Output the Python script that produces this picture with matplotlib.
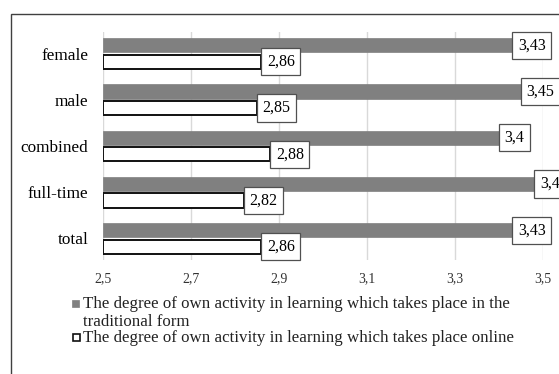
import matplotlib
matplotlib.use("Agg")
import matplotlib.pyplot as plt
from matplotlib.patches import Rectangle
import numpy as np

plt.rcParams['font.family'] = ['Liberation Serif', 'DejaVu Serif']

categories = ['female', 'male', 'combined', 'full-time', 'total']
traditional = [3.43, 3.45, 3.4, 3.48, 3.43]
online = [2.86, 2.85, 2.88, 2.82, 2.86]
x_ticks = [2.5, 2.7, 2.9, 3.1, 3.3, 3.5]

label_trad = ['The degree of own activity in learning which takes place in the',
              'traditional form']
label_online = 'The degree of own activity in learning which takes place online'

W, H = 559, 374
fig = plt.figure(figsize=(W / 100, H / 100), dpi=100)
ax = fig.add_axes([103 / W, 1 - 260 / H, 440 / W, 228 / H])

# outer chart frame (right and bottom edges run off the canvas)
fig.patches.append(Rectangle((11 / W, -0.05), 1.2, 1.05 - 14 / H,
                             transform=fig.transFigure, fill=False,
                             edgecolor='#404040', linewidth=1.0))

def fmt(v):
    return ('%g' % v).replace('.', ',')

y = np.arange(len(categories))
h = 0.31
off = 0.18
ax.barh(y - off, [v - 2.5 for v in traditional], left=2.5, height=h,
        color='#808080', edgecolor='#808080', linewidth=0.5, zorder=3)
ax.barh(y + off, [v - 2.5 for v in online], left=2.5, height=h,
        color='white', edgecolor='#111111', linewidth=1.4, zorder=3)

box = dict(boxstyle='square,pad=0.35', fc='white', ec='#505050', lw=0.9)
for yi, v in zip(y - off, traditional):
    ax.annotate(fmt(v), (v, yi), xytext=(4, 0), textcoords='offset points',
                ha='left', va='center', fontsize=11.5, bbox=box,
                annotation_clip=False, zorder=5)
for yi, v in zip(y + off, online):
    ax.annotate(fmt(v), (v, yi), xytext=(4, 0), textcoords='offset points',
                ha='left', va='center', fontsize=11.5, bbox=box,
                annotation_clip=False, zorder=5)

ax.set_xlim(2.5, 3.5)
ax.set_ylim(4.465, -0.465)
ax.set_xticks(x_ticks)
ax.set_xticklabels([fmt(t) for t in x_ticks], fontsize=10, color='#333333')
ax.set_yticks(y)
ax.set_yticklabels(categories, fontsize=12.4)
ax.tick_params(axis='x', length=0, pad=9)
ax.tick_params(axis='y', length=0, pad=10.5)
ax.grid(axis='x', color='#d9d9d9', linewidth=1.0, zorder=0)
for s in ax.spines.values():
    s.set_visible(False)

# legend below the plot, laid out by hand in figure pixels
def px(x, yy):
    return x / W, 1 - yy / H

fig.patches.append(Rectangle(px(72, 307), 7 / W, 7 / H, transform=fig.transFigure,
                             facecolor='#808080', edgecolor='#808080', lw=0.5))
fig.patches.append(Rectangle(px(72.5, 341), 7 / W, 7 / H, transform=fig.transFigure,
                             facecolor='white', edgecolor='#111111', lw=1.2))
for line, base in zip(label_trad, [307.5, 326.5]):
    fig.text(*px(83, base), line, fontsize=12.2, ha='left', va='baseline',
             color='#222222')
fig.text(*px(83, 342), label_online, fontsize=12.2, ha='left', va='baseline',
         color='#222222')

fig.savefig('out.png', dpi=100)
